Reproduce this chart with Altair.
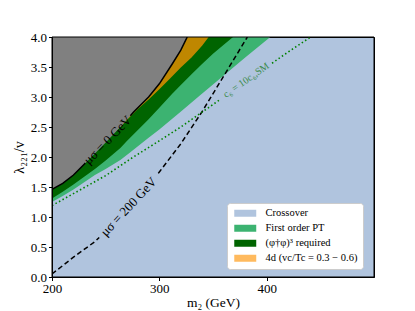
import altair as alt
import numpy as np
import pandas as pd

SERIF = "Liberation Serif"

# ---- data -------------------------------------------------------------
# mu_sigma = 0 GeV contour (lower edge of the grey excluded region)
mu0_x = [200, 210, 220, 230, 240, 250, 263.7, 276, 290, 300, 312, 320, 326]
mu0_y = [1.46, 1.56, 1.70, 1.88, 2.06, 2.24, 2.50, 2.75, 3.00, 3.22, 3.55, 3.78, 4.00]

# lower edge of the 4d (v_c/T_c = 0.3-0.6) region
or_x = [263.7, 270, 280, 290, 300, 310, 320, 330, 340, 346]
or_y = [2.50, 2.62, 2.80, 2.96, 3.13, 3.31, 3.49, 3.66, 3.86, 4.00]

# lower edge of the (phi^dag phi)^3 required region
dg_x = [200, 210, 220, 230, 240, 250, 263.7, 270, 280, 290, 300, 311.8, 320, 330, 339.8, 350, 360, 368.7]
dg_y = [1.31, 1.42, 1.54, 1.67, 1.80, 1.94, 2.15, 2.27, 2.45, 2.63, 2.82, 3.05, 3.20, 3.38, 3.55, 3.72, 3.87, 4.00]

# lower edge of the first order PT region
fo_x = [200, 210, 220, 230, 240, 250, 263.7, 273, 290, 300, 319.6, 338, 347.5, 360, 380, 403.4]
fo_y = [1.25, 1.35, 1.46, 1.58, 1.70, 1.80, 1.95, 2.08, 2.32, 2.46, 2.75, 3.03, 3.17, 3.36, 3.66, 4.00]

# mu_sigma = 200 GeV contour (dashed)
mu200_x = [200, 220, 240, 260, 280, 300, 320, 340, 360, 382]
mu200_y = [0.05, 0.33, 0.59, 0.93, 1.30, 1.75, 2.22, 2.76, 3.35, 4.00]

# c6 = 10 c6,SM contour (dotted)
c6_x = [200, 225, 250, 275, 300, 320, 340, 360, 380, 400, 420, 441]
c6_y = [1.19, 1.44, 1.69, 1.99, 2.27, 2.50, 2.75, 3.00, 3.25, 3.50, 3.75, 4.00]

# contour labels: text, x, y, angle, gap in the line (x range)
lab_mu0 = ("μσ = 0 GeV", 252, 2.28, 314, (231, 273))
lab_mu200 = ("μσ = 200 GeV", 271.5, 1.17, 313, (244, 299))
lab_c6 = ("c₆ = 10c₆,SM", 381, 3.28, 325, (357, 405))

names = ["Crossover", "First order PT", "(φ†φ)³ required", "4d (vc/Tc = 0.3 − 0.6)"]
colors = ["#B0C4DE", "#3CB371", "#006400", "#FFBA5E"]
orange_fill = "#BF8700"
grey_fill = "#808080"

x_ticks = [200, 300, 400]
y_ticks = [0.0, 0.5, 1.0, 1.5, 2.0, 2.5, 3.0, 3.5, 4.0]

# ---- helpers -----------------------------------------------------------
W, H = 322, 240
xscale = alt.Scale(domain=[200, 500], nice=False, zero=False)
yscale = alt.Scale(domain=[0, 4], nice=False, zero=False)
xaxis = alt.Axis(values=x_ticks, format="d", grid=False, zindex=1, labelFlush=False,
                 title="m₂ (GeV)", titlePadding=0, titleFontSize=13.5)
yaxis = alt.Axis(values=y_ticks, format=".1f", grid=False, zindex=1, labelFlush=False,
                 title="λ₂₂₁/v", titlePadding=4)


def X():
    return alt.X("x:Q", scale=xscale, axis=xaxis)


def Y():
    return alt.Y("y:Q", scale=yscale, axis=yaxis)


def C():
    return alt.Color(
        "region:N",
        scale=alt.Scale(domain=names, range=colors),
        legend=alt.Legend(
            title=None, orient="none", legendX=175, legendY=166,
            symbolType="M-3.14,-1H3.14V1H-3.14Z", symbolSize=49,
            symbolOffset=8, symbolStrokeWidth=0, symbolOpacity=1,
            labelFont=SERIF, labelFontSize=10.5, labelColor="black",
            labelOffset=15, padding=5, rowPadding=4,
            fillColor="white", strokeColor="#cccccc", cornerRadius=3,
        ),
    )


def seg_df(xs, ys, gap):
    g0, g1 = gap
    xa = np.array(xs, float)
    ya = np.array(ys, float)
    rows = []
    for x, y in zip(xa, ya):
        if x < g0:
            rows.append((x, y, "a"))
        elif x > g1:
            rows.append((x, y, "b"))
    rows.append((g0, float(np.interp(g0, xa, ya)), "a"))
    rows.append((g1, float(np.interp(g1, xa, ya)), "b"))
    return pd.DataFrame(rows, columns=["x", "y", "seg"]).sort_values(["seg", "x"])


def area(xs, ys, region=None, fill=None):
    df = pd.DataFrame({"x": xs, "y": ys, "region": region if region else ""})
    enc = dict(x=X(), y=Y(), y2=alt.datum(4.0))
    if region:
        enc["color"] = C()
    else:
        enc["color"] = alt.value(fill)
    return alt.Chart(df).mark_area(clip=True, strokeWidth=0).encode(**enc)


def label(lab, color, size):
    text, lx, ly, ang, _ = lab
    df = pd.DataFrame({"x": [lx], "y": [ly], "t": [text]})
    return alt.Chart(df).mark_text(
        font=SERIF, fontSize=size, color=color, angle=ang,
        align="center", baseline="middle",
    ).encode(x=X(), y=Y(), text="t:N")


# ---- layers ------------------------------------------------------------
fo_layer = area(fo_x, fo_y, region=names[1])
dg_layer = area(dg_x, dg_y, region=names[2])
or_layer = area(or_x, or_y, fill=orange_fill)
grey_layer = area(mu0_x, mu0_y, fill=grey_fill)

mu0_line = alt.Chart(seg_df(mu0_x, mu0_y, lab_mu0[4])).mark_line(
    color="black", strokeWidth=1.5, clip=True
).encode(x=X(), y=Y(), detail="seg:N")

mu200_line = alt.Chart(seg_df(mu200_x, mu200_y, lab_mu200[4])).mark_line(
    color="black", strokeWidth=1.5, strokeDash=[5, 3], clip=True
).encode(x=X(), y=Y(), detail="seg:N")

c6_line = alt.Chart(seg_df(c6_x, c6_y, lab_c6[4])).mark_line(
    color="#008000", strokeWidth=1.6, strokeDash=[1.5, 2.5], clip=True
).encode(x=X(), y=Y(), detail="seg:N")

frame = alt.Chart(pd.DataFrame({"k": [0]})).mark_rect(
    fillOpacity=0, stroke="black", strokeWidth=1
).encode(x=alt.value(0), x2=alt.value(W), y=alt.value(0), y2=alt.value(H))

chart = alt.layer(
    fo_layer, dg_layer, or_layer, grey_layer,
    mu0_line, mu200_line, c6_line,
    label(lab_mu0, "black", 13),
    label(lab_mu200, "black", 13),
    label(lab_c6, "#3A8A4A", 10),
    frame,
).properties(
    width=W, height=H,
    autosize=alt.AutoSizeParams(type="none"),
    padding={"left": 44, "top": 29, "right": 33, "bottom": 36},
).configure_view(
    fill="#B0C4DE", stroke="black", strokeWidth=1
).configure_axis(
    labelFont=SERIF, labelFontSize=13, labelColor="black",
    titleFont=SERIF, titleFontSize=14, titleFontWeight="normal", titleColor="black",
    tickColor="black", domainColor="black", tickSize=3.5, tickWidth=1,
    domainWidth=1, labelPadding=2,
)

chart.save("out.html", embed_options={"renderer": "svg", "actions": False})
